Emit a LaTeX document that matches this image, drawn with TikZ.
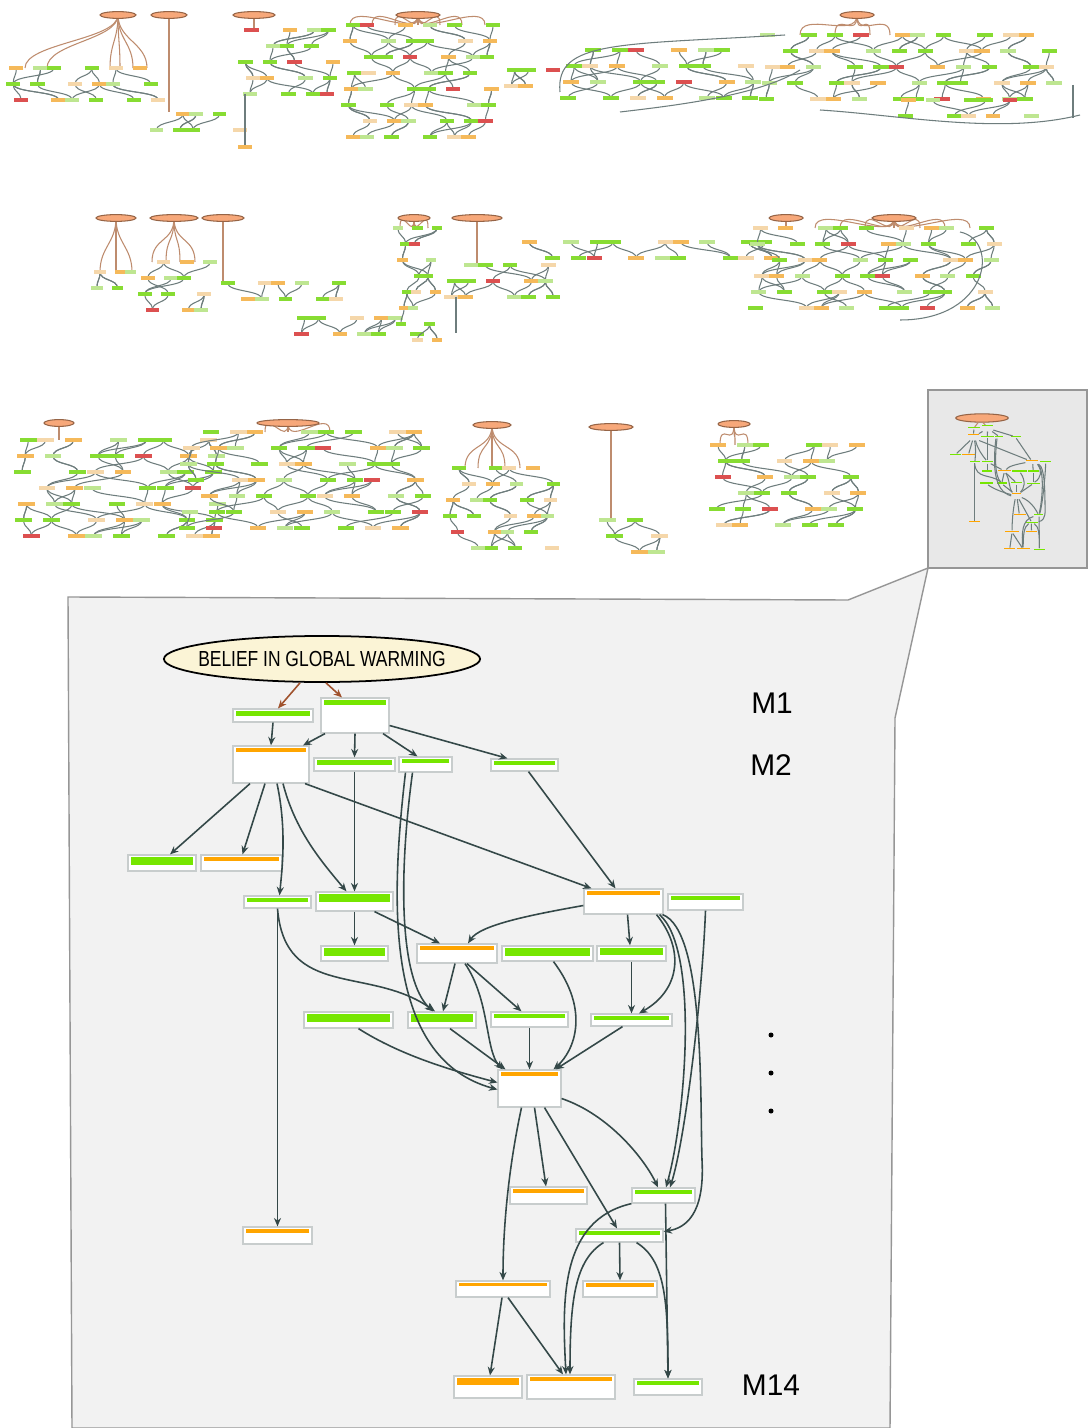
\documentclass[tikz,border=0pt]{standalone}
\usepackage{fontspec}
\setmainfont{Liberation Sans}
\usepackage{graphicx}
\usetikzlibrary{shapes.geometric,arrows.meta}

\definecolor{barG}{RGB}{118,230,0}
\definecolor{barO}{RGB}{255,165,0}
\definecolor{boxgray}{RGB}{200,205,205}
\definecolor{linkc}{RGB}{52,72,72}
\definecolor{rootc}{RGB}{160,82,45}
\definecolor{creamc}{RGB}{251,244,214}
\definecolor{peachc}{RGB}{247,168,122}
\definecolor{peachd}{RGB}{150,100,70}
\definecolor{panelc}{RGB}{242,242,242}
\definecolor{panelline}{RGB}{150,150,150}
\definecolor{insetc}{RGB}{232,232,232}
\definecolor{tlinkc}{RGB}{110,125,125}
\definecolor{trootc}{RGB}{190,140,110}
\definecolor{tgreen}{RGB}{135,220,50}
\definecolor{tlgreen}{RGB}{190,230,145}
\definecolor{torange}{RGB}{245,185,90}
\definecolor{tlorange}{RGB}{245,215,170}
\definecolor{tred}{RGB}{220,80,80}

\tikzset{
  mbox/.style={rectangle, draw=boxgray, fill=white, line width=0.35pt, inner sep=0pt},
  bar/.style 2 args={path picture={\fill[#1] ([xshift=0.03cm,yshift=-0.02cm]path picture bounding box.north west) rectangle ([xshift=-0.03cm,yshift=-#2 cm]path picture bounding box.north east);}},
  rootnode/.style={ellipse, draw=black, fill=creamc, line width=0.5pt, minimum width=3.16cm, minimum height=0.46cm, inner sep=0pt, font=\fontsize{6.2}{7}\selectfont},
  link/.style={draw=linkc, line width=0.45pt, -{Stealth[length=2.4pt,width=2pt]}},
  rootlink/.style={draw=rootc, line width=0.45pt, -{Stealth[length=2.4pt,width=2pt]}},
  tlink/.style={draw=tlinkc, line width=0.3pt},
  troot/.style={draw=trootc, line width=0.3pt},
  mlabel/.style={font=\fontsize{8.5}{10}\selectfont, inner sep=0pt}
}

% small overview graphs: left, right, top, levels, columns, seed
\newcommand{\thumbgraph}[6]{%
  \pgfmathsetmacro\tsp{(#2-#1)/#5}
  \pgfmathsetmacro\thw{min(0.36*\tsp,9)}
  \foreach \j in {2,...,#4}{
    \foreach \k in {1,...,#5}{
      \pgfmathtruncatemacro\ton{mod(\j*7+\k*11+#6,4)}
      \pgfmathsetmacro\xa{#1+(\k-0.5)*\tsp+(mod(\j*5+\k*3+#6,7)-3)*1.5}
      \pgfmathsetmacro\ya{#3+(\j-1)*16}
      \ifnum\ton>0
        \foreach \rr in {3,5}{
          \pgfmathtruncatemacro\kb{max(1,min(#5,\k+mod(\j*\rr+\k*(8-\rr)+#6,5)-2))}
          \pgfmathtruncatemacro\tup{mod((\j-1)*7+\kb*11+#6,4)}
          \ifnum\tup>0
            \pgfmathsetmacro\xb{#1+(\kb-0.5)*\tsp+(mod((\j-1)*5+\kb*3+#6,7)-3)*1.5}
            \draw[tlink] (\xa,\ya) .. controls (\xa,\ya-9) and (\xb,\ya-7) .. (\xb,\ya-16);
          \fi
        }
      \fi
    }
  }
  \foreach \j in {1,...,#4}{
    \foreach \k in {1,...,#5}{
      \pgfmathtruncatemacro\ton{mod(\j*7+\k*11+#6,4)}
      \ifnum\ton>0
        \pgfmathsetmacro\xa{#1+(\k-0.5)*\tsp+(mod(\j*5+\k*3+#6,7)-3)*1.5}
        \pgfmathsetmacro\ya{#3+(\j-1)*16}
        \pgfmathtruncatemacro\tc{mod(\j*13+\k*17+#6*3,20)}
        \ifnum\tc<8 \def\tcol{tgreen}\else\ifnum\tc<12 \def\tcol{tlgreen}\else\ifnum\tc<16 \def\tcol{torange}\else\ifnum\tc<19 \def\tcol{tlorange}\else\def\tcol{tred}\fi\fi\fi\fi
        \fill[\tcol] (\xa-\thw,\ya-2) rectangle (\xa+\thw,\ya+2);
      \fi
    }
  }
}

% root of an overview graph: x, y, half width, target y, target xs
\newcommand{\thumbroot}[5]{%
  \foreach \tx in {#5}{\draw[troot] (#1,#2) .. controls (#1,#2+25) and (\tx,#4-25) .. (\tx,#4);}
  \filldraw[fill=peachc, draw=peachd, line width=0.3pt] (#1,#2) ellipse [x radius=#3, y radius=3.4];
}

\newcommand{\beliefgraph}{%
  \node[rootnode] (bgw) at (322,659) {\makebox[0pt]{\scalebox{0.8}[1]{BELIEF IN GLOBAL WARMING}}};
  \foreach \nm/\cx/\cy/\w/\h/\cl/\bh in {
    n1/273/715.5/80/13/barG/5, n2/355/715.5/68/35/barG/5, n3/271/764.5/76/37/barO/4,
    n4/354.5/764.5/81/13/barG/5, n5/425.5/764.5/53/15/barG/4, n6/524.5/765/67/12/barG/4,
    n7/162/863/68/16/barG/8, n8/241.5/863/81/16/barO/4, n9/277.5/902/67/12/barG/4,
    n10/354.5/901.5/77/19/barG/8, n11/354.5/953.5/67/15/barG/8, n12/457/953.5/80/19/barO/4,
    n13/348.5/1020/89/16/barG/8, n14/442/1020/68/16/barG/8, n15/623.5/901.5/79/25/barO/4,
    n16/705.5/902/75/16/barG/4, n17/547.5/953.5/91/15/barG/8, n18/631.5/953.5/69/15/barG/7,
    n19/529.5/1019.5/77/15/barG/4, n20/631.5/1020/81/12/barG/4, n21/529.5/1088.5/63/37/barO/4,
    n22/548.5/1195.5/77/17/barO/4, n23/663.5/1195.5/63/15/barG/4, n24/619.5/1235.5/87/13/barG/4,
    n25/503/1289/94/16/barO/3, n26/620/1289/74/16/barO/4, n27/488/1387/68/22/barO/7,
    n28/571/1387/88/24/barO/4, n29/668/1387/68/16/barG/4, n30/277.5/1235.5/69/17/barO/4}{
    \pgfmathsetmacro\mw{\w*0.01}
    \pgfmathsetmacro\mh{\h*0.01}
    \pgfmathsetmacro\bd{0.02+\bh*0.01}
    \node[mbox, bar={\cl}{\bd}, minimum width=\mw cm, minimum height=\mh cm] (\nm) at (\cx,\cy) {};
  }
  \draw[rootlink] ([xshift=-0.22cm]bgw.south) -- ([xshift=0.05cm]n1.north);
  \draw[rootlink] ([xshift=0.04cm]bgw.south) -- ([xshift=-0.13cm]n2.north);
  \draw[link] (n1.south) -- (n3.north);
  \draw[link] ([xshift=-0.30cm]n2.south) -- ([xshift=0.32cm]n3.north);
  \draw[link] (n2.south) -- (n4.north);
  \draw[link] ([xshift=0.28cm]n2.south) -- ([xshift=-0.08cm]n5.north);
  \draw[link] ([yshift=-0.10cm]n2.east) -- ([xshift=-0.17cm]n6.north);
  \draw[link] ([xshift=-0.21cm]n3.south) -- ([xshift=0.08cm]n7.north);
  \draw[link] ([xshift=-0.06cm]n3.south) -- ([xshift=0.01cm]n8.north);
  \draw[link] ([xshift=0.06cm]n3.south) .. controls (287,830) and (282,870) .. ([xshift=0.02cm]n9.north);
  \draw[link] ([xshift=0.12cm]n3.south) .. controls (295,830) and (320,860) .. ([xshift=-0.08cm]n10.north);
  \draw[link] ([xshift=0.34cm]n3.south) -- ([xshift=-0.32cm]n15.north);
  \draw[link] (n4.south) -- (n10.north);
  \draw[link] (n10.south) -- (n11.north);
  \draw[link] ([xshift=0.2cm]n10.south) -- ([xshift=-0.17cm]n12.north);
  \draw[link] ([xshift=-0.13cm]n5.south) .. controls (398,880) and (400,980) .. ([xshift=-0.09cm]n14.north);
  \draw[link] ([xshift=-0.2cm]n5.south) .. controls (388,920) and (390,1060) .. ([yshift=-0.01cm]n21.west);
  \draw[link] ([xshift=0.04cm]n6.south) -- ([xshift=-0.08cm]n15.north);
  \draw[link] (n9.south) .. controls (285,1000) and (370,965) .. ([xshift=-0.07cm]n14.north);
  \draw[link] (n9.south) -- (n30.north);
  \draw[link] ([xshift=-0.02cm]n12.south) -- ([xshift=0.01cm]n14.north);
  \draw[link] ([xshift=0.1cm]n12.south) -- ([xshift=-0.08cm]n19.north);
  \draw[link] ([xshift=0.08cm]n12.south) .. controls (490,1000) and (485,1050) .. ([xshift=-0.27cm]n21.north);
  \draw[link] ([xshift=0.08cm]n14.south) -- ([xshift=-0.24cm]n21.north);
  \draw[link] ([xshift=0.1cm]n13.south) .. controls (400,1055) and (450,1070) .. ([yshift=0.06cm]n21.west);
  \draw[link] (n19.south) -- (n21.north);
  \draw[link] ([xshift=0.06cm]n17.south) .. controls (590,1010) and (575,1050) .. ([xshift=0.24cm]n21.north);
  \draw[link] ([xshift=-0.09cm]n20.south) -- ([xshift=0.26cm]n21.north);
  \draw[link] ([yshift=-0.04cm]n15.west) .. controls (530,915) and (480,925) .. ([xshift=0.11cm]n12.north);
  \draw[link] ([xshift=0.04cm]n15.south) -- ([xshift=-0.015cm]n18.north);
  \draw[link] ([xshift=0.33cm]n15.south) .. controls (685,950) and (680,990) .. ([xshift=0.075cm]n20.north);
  \draw[link] (n18.south) -- (n20.north);
  \draw[link] ([xshift=0.36cm]n15.south) .. controls (700,950) and (685,1120) .. ([xshift=0.025cm]n23.north);
  \draw[link] (n16.south) .. controls (702,1000) and (685,1140) .. ([xshift=0.065cm]n23.north);
  \draw[link] ([xshift=0.39cm]n15.south) .. controls (705,930) and (700,1100) .. (702,1160) .. controls (705,1215) and (685,1228) .. ([yshift=0.04cm]n24.east);
  \draw[link] ([xshift=-0.08cm]n21.south) .. controls (508,1170) and (503,1230) .. (n25.north);
  \draw[link] ([xshift=0.05cm]n21.south) -- ([xshift=-0.025cm]n22.north);
  \draw[link] ([xshift=0.15cm]n21.south) -- ([xshift=-0.025cm]n24.north);
  \draw[link] ([yshift=-0.10cm]n21.east) .. controls (610,1115) and (645,1160) .. ([xshift=-0.055cm]n23.north);
  \draw[link] (n23.south west) .. controls (560,1220) and (562,1300) .. ([xshift=-0.05cm]n28.north);
  \draw[link] ([xshift=0.02cm]n23.south) -- (n29.north);
  \draw[link] (n24.south) -- (n26.north);
  \draw[link] ([xshift=-0.16cm]n24.south) .. controls (575,1260) and (570,1300) .. ([xshift=-0.01cm]n28.north);
  \draw[link] ([xshift=0.17cm]n24.south) .. controls (665,1260) and (668,1300) .. (n29.north);
  \draw[link] ([xshift=-0.01cm]n25.south) -- ([xshift=0.02cm]n27.north);
  \draw[link] ([xshift=0.05cm]n25.south) -- ([xshift=-0.08cm]n28.north);
}

\begin{document}
\begin{tikzpicture}[x=0.01cm, y=-0.01cm]
  \useasboundingbox (0,0) rectangle (1087,1428);
  \fill[white] (0,0) rectangle (1087,1428);
  \filldraw[fill=panelc, draw=panelline, line width=0.4pt] (68,597) -- (848,600) -- (928,568) -- (895,718) -- (890,1428) -- (72,1428) -- cycle;
  \filldraw[fill=insetc, draw=panelline, line width=0.4pt] (928,390) rectangle (1087,568);
  % first row
  \thumbroot{118}{15}{18}{68}{25,47,110,120,133,147}
  \thumbgraph{8}{165}{68}{3}{8}{1}
  \thumbroot{169}{15}{18}{112}{169}
  \thumbgraph{150}{245}{114}{2}{5}{2}
  \thumbroot{254}{15}{21}{30}{254}
  \thumbgraph{240}{340}{30}{5}{5}{3}
  \draw[tlink] (245,94) -- (245,147);
  \fill[torange] (238,145) rectangle (252,149);
  \thumbroot{418}{15}{22}{25}{350,372,395,418,440,462,485}
  \thumbgraph{340}{500}{25}{8}{8}{4}
  \thumbgraph{500}{560}{70}{2}{3}{5}
  \thumbroot{857}{15}{17}{35}{800,835,870,890}
  \thumbgraph{560}{760}{50}{4}{9}{6}
  \thumbgraph{760}{1060}{35}{5}{14}{7}
  \thumbgraph{900}{1040}{100}{2}{7}{8}
  \draw[tlink] (560,92) .. controls (555,40) and (620,45) .. (785,35);
  \draw[tlink] (620,112) .. controls (680,105) and (760,95) .. (800,70);
  \draw[tlink] (820,110) .. controls (900,115) and (1000,135) .. (1080,115);
  \draw[tlink] (1073,85) -- (1073,118);
  % second row
  \thumbroot{116}{218}{20}{272}{100,116,132}
  \thumbgraph{92}{140}{272}{2}{3}{9}
  \thumbroot{174}{218}{24}{262}{152,166,180,195}
  \thumbgraph{140}{215}{262}{4}{4}{10}
  \thumbroot{223}{218}{21}{283}{223}
  \thumbgraph{215}{350}{283}{2}{7}{11}
  \thumbgraph{290}{430}{318}{2}{7}{12}
  \thumbroot{414}{218}{16}{228}{400,414,428}
  \thumbgraph{395}{440}{228}{8}{3}{13}
  \thumbroot{477}{218}{25}{265}{477}
  \thumbgraph{440}{560}{265}{3}{6}{14}
  \draw[tlink] (456,297) -- (456,333);
  \thumbgraph{520}{780}{242}{2}{12}{15}
  \thumbroot{786}{218}{17}{228}{786}
  \thumbroot{894}{218}{22}{228}{815,840,865,894,920,945,970}
  \thumbgraph{750}{1000}{228}{6}{12}{16}
  \draw[tlink] (960,232) .. controls (1000,240) and (990,320) .. (900,320);
  % third row
  \thumbroot{59}{423}{15}{440}{59}
  \thumbgraph{15}{225}{440}{7}{9}{17}
  \thumbroot{288}{423}{31}{432}{265,288,330}
  \thumbgraph{180}{430}{432}{7}{11}{18}
  \thumbroot{492}{425}{19}{468}{465,478,492,505,520}
  \thumbgraph{445}{560}{468}{6}{6}{19}
  \thumbroot{611}{427}{22}{520}{611}
  \thumbgraph{600}{670}{520}{3}{3}{20}
  \thumbroot{734}{424}{16}{445}{720,735,748}
  \thumbgraph{710}{865}{445}{6}{7}{21}
  % overview of the zoomed graph
  \begin{scope}[shift={(928.55,298.72)}, xscale=0.166, yscale=0.181, transform shape, name prefix=mini-,
      link/.append style={-, line width=0.3pt, draw=tlinkc},
      rootlink/.append style={-, line width=0.3pt, draw=trootc},
      mbox/.append style={draw=none, fill=none},
      rootnode/.append style={fill=peachc, draw=peachd, text=peachc, line width=0.3pt}]
    \beliefgraph
  \end{scope}
  % zoomed graph
  \beliefgraph
  \node[mlabel] (m1) at (772,703) {M1};
  \node[mlabel] (m2) at (771,765) {M2};
  \node[mlabel] (m14) at (771,1385) {M14};
  \foreach \y in {1035,1073,1111}
    \fill (771,\y) circle [radius=2.5];
\end{tikzpicture}
\end{document}
